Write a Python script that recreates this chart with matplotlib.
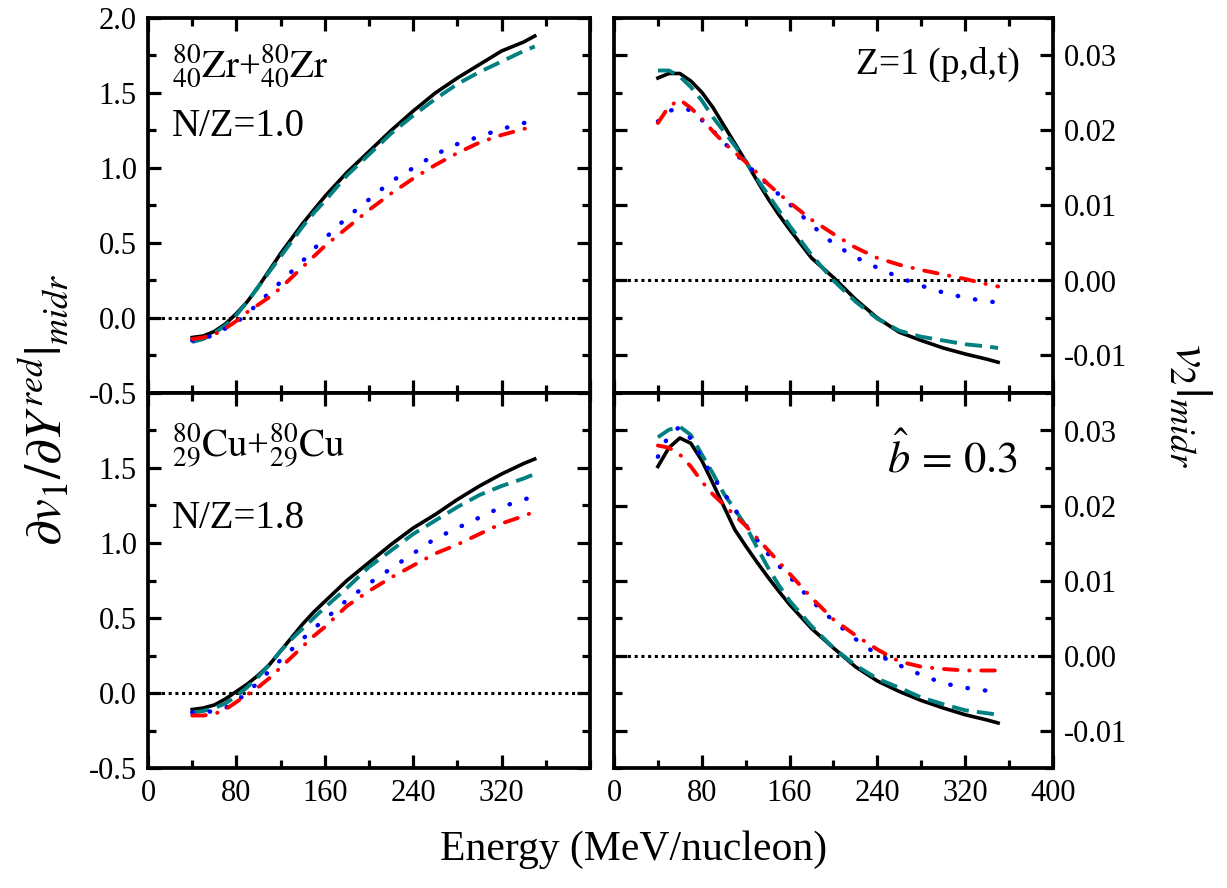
import numpy as np
import matplotlib
matplotlib.use('Agg')
import matplotlib.pyplot as plt
from matplotlib.ticker import MultipleLocator, FormatStrFormatter

plt.rcParams.update({
    'font.family': 'Liberation Serif',
    'mathtext.fontset': 'stix',
    'axes.unicode_minus': False,
    'axes.linewidth': 2.7,
})

# ---- data ----
energy = [40, 50, 60, 70, 80, 90, 100, 110, 120, 130, 140, 150, 160, 180,
          200, 220, 240, 260, 280, 300, 320, 340, 350]

# d v1 / d Y  --  80Zr + 80Zr  (N/Z = 1.0)
zr_black = [-0.13, -0.12, -0.09, -0.04, 0.03, 0.11, 0.21, 0.32, 0.43, 0.53,
            0.63, 0.72, 0.81, 0.97, 1.11, 1.25, 1.38, 1.50, 1.60, 1.69,
            1.78, 1.84, 1.88]
zr_teal = [-0.16, -0.14, -0.10, -0.05, 0.02, 0.11, 0.21, 0.31, 0.41, 0.51,
           0.61, 0.70, 0.78, 0.95, 1.09, 1.23, 1.35, 1.46, 1.56, 1.64,
           1.71, 1.78, 1.81]
zr_blue = [-0.15, -0.14, -0.11, -0.07, -0.03, 0.03, 0.10, 0.17, 0.24, 0.31,
           0.38, 0.46, 0.53, 0.67, 0.79, 0.91, 1.00, 1.09, 1.16, 1.21,
           1.26, 1.30, 1.31]
zr_red = [-0.14, -0.13, -0.11, -0.07, -0.02, 0.04, 0.09, 0.14, 0.20, 0.27,
          0.34, 0.41, 0.48, 0.60, 0.72, 0.83, 0.93, 1.02, 1.10, 1.17,
          1.22, 1.26, 1.28]

# d v1 / d Y  --  80Cu + 80Cu  (N/Z = 1.8)
cu_black = [-0.11, -0.10, -0.08, -0.04, 0.01, 0.06, 0.12, 0.19, 0.28, 0.37,
            0.46, 0.54, 0.61, 0.75, 0.87, 0.99, 1.10, 1.19, 1.29, 1.38,
            1.46, 1.53, 1.56]
cu_teal = [-0.13, -0.12, -0.10, -0.07, -0.02, 0.04, 0.11, 0.19, 0.28, 0.36,
           0.43, 0.50, 0.57, 0.70, 0.84, 0.95, 1.06, 1.15, 1.24, 1.32,
           1.38, 1.43, 1.46]
cu_blue = [-0.13, -0.13, -0.12, -0.10, -0.06, 0.01, 0.07, 0.15, 0.22, 0.29,
           0.36, 0.43, 0.49, 0.62, 0.73, 0.83, 0.93, 1.03, 1.10, 1.17,
           1.24, 1.29, 1.31]
cu_red = [-0.15, -0.15, -0.14, -0.11, -0.06, -0.01, 0.04, 0.10, 0.17, 0.24,
          0.31, 0.38, 0.44, 0.58, 0.68, 0.77, 0.85, 0.93, 0.99, 1.06,
          1.13, 1.18, 1.21]

# v2 midrapidity -- Z=1 (p,d,t)
z1_black = [0.0270, 0.0276, 0.0276, 0.0266, 0.0251, 0.0231, 0.0207, 0.0183,
            0.0159, 0.0134, 0.0110, 0.0088, 0.0068, 0.0030, 0.0004, -0.0025,
            -0.0050, -0.0069, -0.0080, -0.0090, -0.0098, -0.0105, -0.0109]
z1_teal = [0.0280, 0.0280, 0.0272, 0.0258, 0.0240, 0.0218, 0.0199, 0.0180,
           0.0159, 0.0136, 0.0115, 0.0094, 0.0073, 0.0034, 0.0000, -0.0028,
           -0.0051, -0.0067, -0.0075, -0.0080, -0.0085, -0.0088, -0.0090]
z1_blue = [0.0212, 0.0226, 0.0230, 0.0227, 0.0214, 0.0200, 0.0184, 0.0170,
           0.0156, 0.0142, 0.0128, 0.0115, 0.0102, 0.0074, 0.0049, 0.0031,
           0.0017, 0.0004, -0.0007, -0.0016, -0.0023, -0.0028, -0.0029]
z1_red = [0.0210, 0.0232, 0.0241, 0.0230, 0.0216, 0.0199, 0.0184, 0.0171,
          0.0158, 0.0144, 0.0129, 0.0116, 0.0104, 0.0081, 0.0062, 0.0044,
          0.0030, 0.0021, 0.0014, 0.0008, 0.0002, -0.0005, -0.0008]

# v2 midrapidity -- b = 0.3
b3_black = [0.0252, 0.0277, 0.0290, 0.0283, 0.0260, 0.0230, 0.0199, 0.0168,
            0.0146, 0.0125, 0.0105, 0.0086, 0.0068, 0.0036, 0.0010, -0.0015,
            -0.0034, -0.0048, -0.0060, -0.0070, -0.0079, -0.0086, -0.0090]
b3_teal = [0.0291, 0.0301, 0.0305, 0.0294, 0.0268, 0.0243, 0.0216, 0.0195,
           0.0173, 0.0145, 0.0118, 0.0094, 0.0073, 0.0039, 0.0010, -0.0013,
           -0.0031, -0.0043, -0.0056, -0.0065, -0.0073, -0.0077, -0.0079]
b3_blue = [0.0265, 0.0294, 0.0305, 0.0289, 0.0263, 0.0239, 0.0217, 0.0195,
           0.0174, 0.0155, 0.0136, 0.0120, 0.0105, 0.0073, 0.0046, 0.0022,
           0.0001, -0.0013, -0.0026, -0.0037, -0.0043, -0.0047, -0.0048]
b3_red = [0.0280, 0.0277, 0.0268, 0.0252, 0.0232, 0.0215, 0.0201, 0.0187,
          0.0173, 0.0157, 0.0141, 0.0125, 0.0109, 0.0077, 0.0048, 0.0027,
          0.0008, -0.0008, -0.0015, -0.0018, -0.0020, -0.0020, -0.0020]

styles = [
    dict(color='black', lw=2.6, ls='-'),
    dict(color='#008080', lw=2.8, ls=(0, (4.4, 2.1))),
    dict(color='#0000ff', lw=3.2, ls=(0, (0.1, 3.85)), dash_capstyle='round'),
    dict(color='#ff0000', lw=2.8, ls=(0, (3.5, 3.0, 0.1, 3.0)),
         dash_capstyle='round'),
]

W, H = 1227, 888
fig = plt.figure(figsize=(W / 100, H / 100), dpi=100)


def box(x0, x1, y0, y1):
    return [x0 / W, 1 - y1 / H, (x1 - x0) / W, (y1 - y0) / H]


ax_tl = fig.add_axes(box(148, 590, 18, 393))
ax_bl = fig.add_axes(box(148, 590, 393, 768))
ax_tr = fig.add_axes(box(614, 1053, 18, 393))
ax_br = fig.add_axes(box(614, 1053, 393, 768))

panels = [
    (ax_tl, [zr_black, zr_teal, zr_blue, zr_red]),
    (ax_bl, [cu_black, cu_teal, cu_blue, cu_red]),
    (ax_tr, [z1_black, z1_teal, z1_blue, z1_red]),
    (ax_br, [b3_black, b3_teal, b3_blue, b3_red]),
]

for ax, series in panels:
    ax.axhline(0, color='black', lw=2.2, ls=(0, (1, 1.2)))
    for ys, st in zip(series, styles):
        ax.plot(energy, ys, **st)
    ax.set_xlim(0, 400)
    ax.xaxis.set_major_locator(MultipleLocator(80))
    ax.xaxis.set_minor_locator(MultipleLocator(40))
    ax.tick_params(which='both', direction='in', top=True, right=True,
                   width=2.3, labelsize=22, pad=8)
    ax.tick_params(which='major', length=9.5)
    ax.tick_params(which='minor', length=5.5)

for ax in (ax_tl, ax_bl):
    ax.set_ylim(-0.5, 2.0)
    ax.yaxis.set_major_locator(MultipleLocator(0.5))
    ax.yaxis.set_minor_locator(MultipleLocator(0.25))
    ax.yaxis.set_major_formatter(FormatStrFormatter('%.1f'))

for ax in (ax_tr, ax_br):
    ax.set_ylim(-0.015, 0.035)
    ax.yaxis.set_major_locator(MultipleLocator(0.01))
    ax.yaxis.set_minor_locator(MultipleLocator(0.005))
    ax.yaxis.set_major_formatter(FormatStrFormatter('%.2f'))
    ax.tick_params(axis='y', labelleft=False, labelright=True)

for ax in (ax_tl, ax_tr):
    ax.tick_params(axis='x', labelbottom=False)

# hide overlapping end labels
ax_bl.set_xticks([0, 80, 160, 240, 320])
ax_bl.xaxis.set_minor_locator(MultipleLocator(40))
ax_bl.set_yticks([-0.5, 0.0, 0.5, 1.0, 1.5, 2.0])
ax_bl.set_yticklabels(['-0.5', '0.0', '0.5', '1.0', '1.5', ''])
ax_br.set_yticks([-0.01, 0.0, 0.01, 0.02, 0.03])

# annotations
ax_tl.text(22, 1.61, r'${}^{80}_{40}\mathrm{Zr}$+${}^{80}_{40}\mathrm{Zr}$',
           fontsize=28, ha='left', va='baseline')
ax_tl.text(22, 1.21, 'N/Z=1.0', fontsize=28, ha='left', va='baseline')
ax_bl.text(22, 1.57, r'${}^{80}_{29}\mathrm{Cu}$+${}^{80}_{29}\mathrm{Cu}$',
           fontsize=28, ha='left', va='baseline')
ax_bl.text(22, 1.10, 'N/Z=1.8', fontsize=28, ha='left', va='baseline')
ax_tr.text(370, 0.0275, 'Z=1 (p,d,t)', fontsize=27, ha='right', va='baseline')
ax_br.text(368, 0.0244, r'$\hat{b}\,=\,0.3$', fontsize=32, ha='right',
           va='baseline')

fig.text(634 / W, 1 - 850 / H, 'Energy (MeV/nucleon)', fontsize=30,
         ha='center', va='center')
fig.text(46 / W, 1 - 410 / H, r'$\partial v_1/\partial Y^{red}|_{midr}$',
         fontsize=37, rotation=90, ha='center', va='center')
fig.text(1188 / W, 1 - 405 / H, r'$v_2|_{midr}$', fontsize=37,
         rotation=270, ha='center', va='center')

fig.savefig('out.png', dpi=100)
